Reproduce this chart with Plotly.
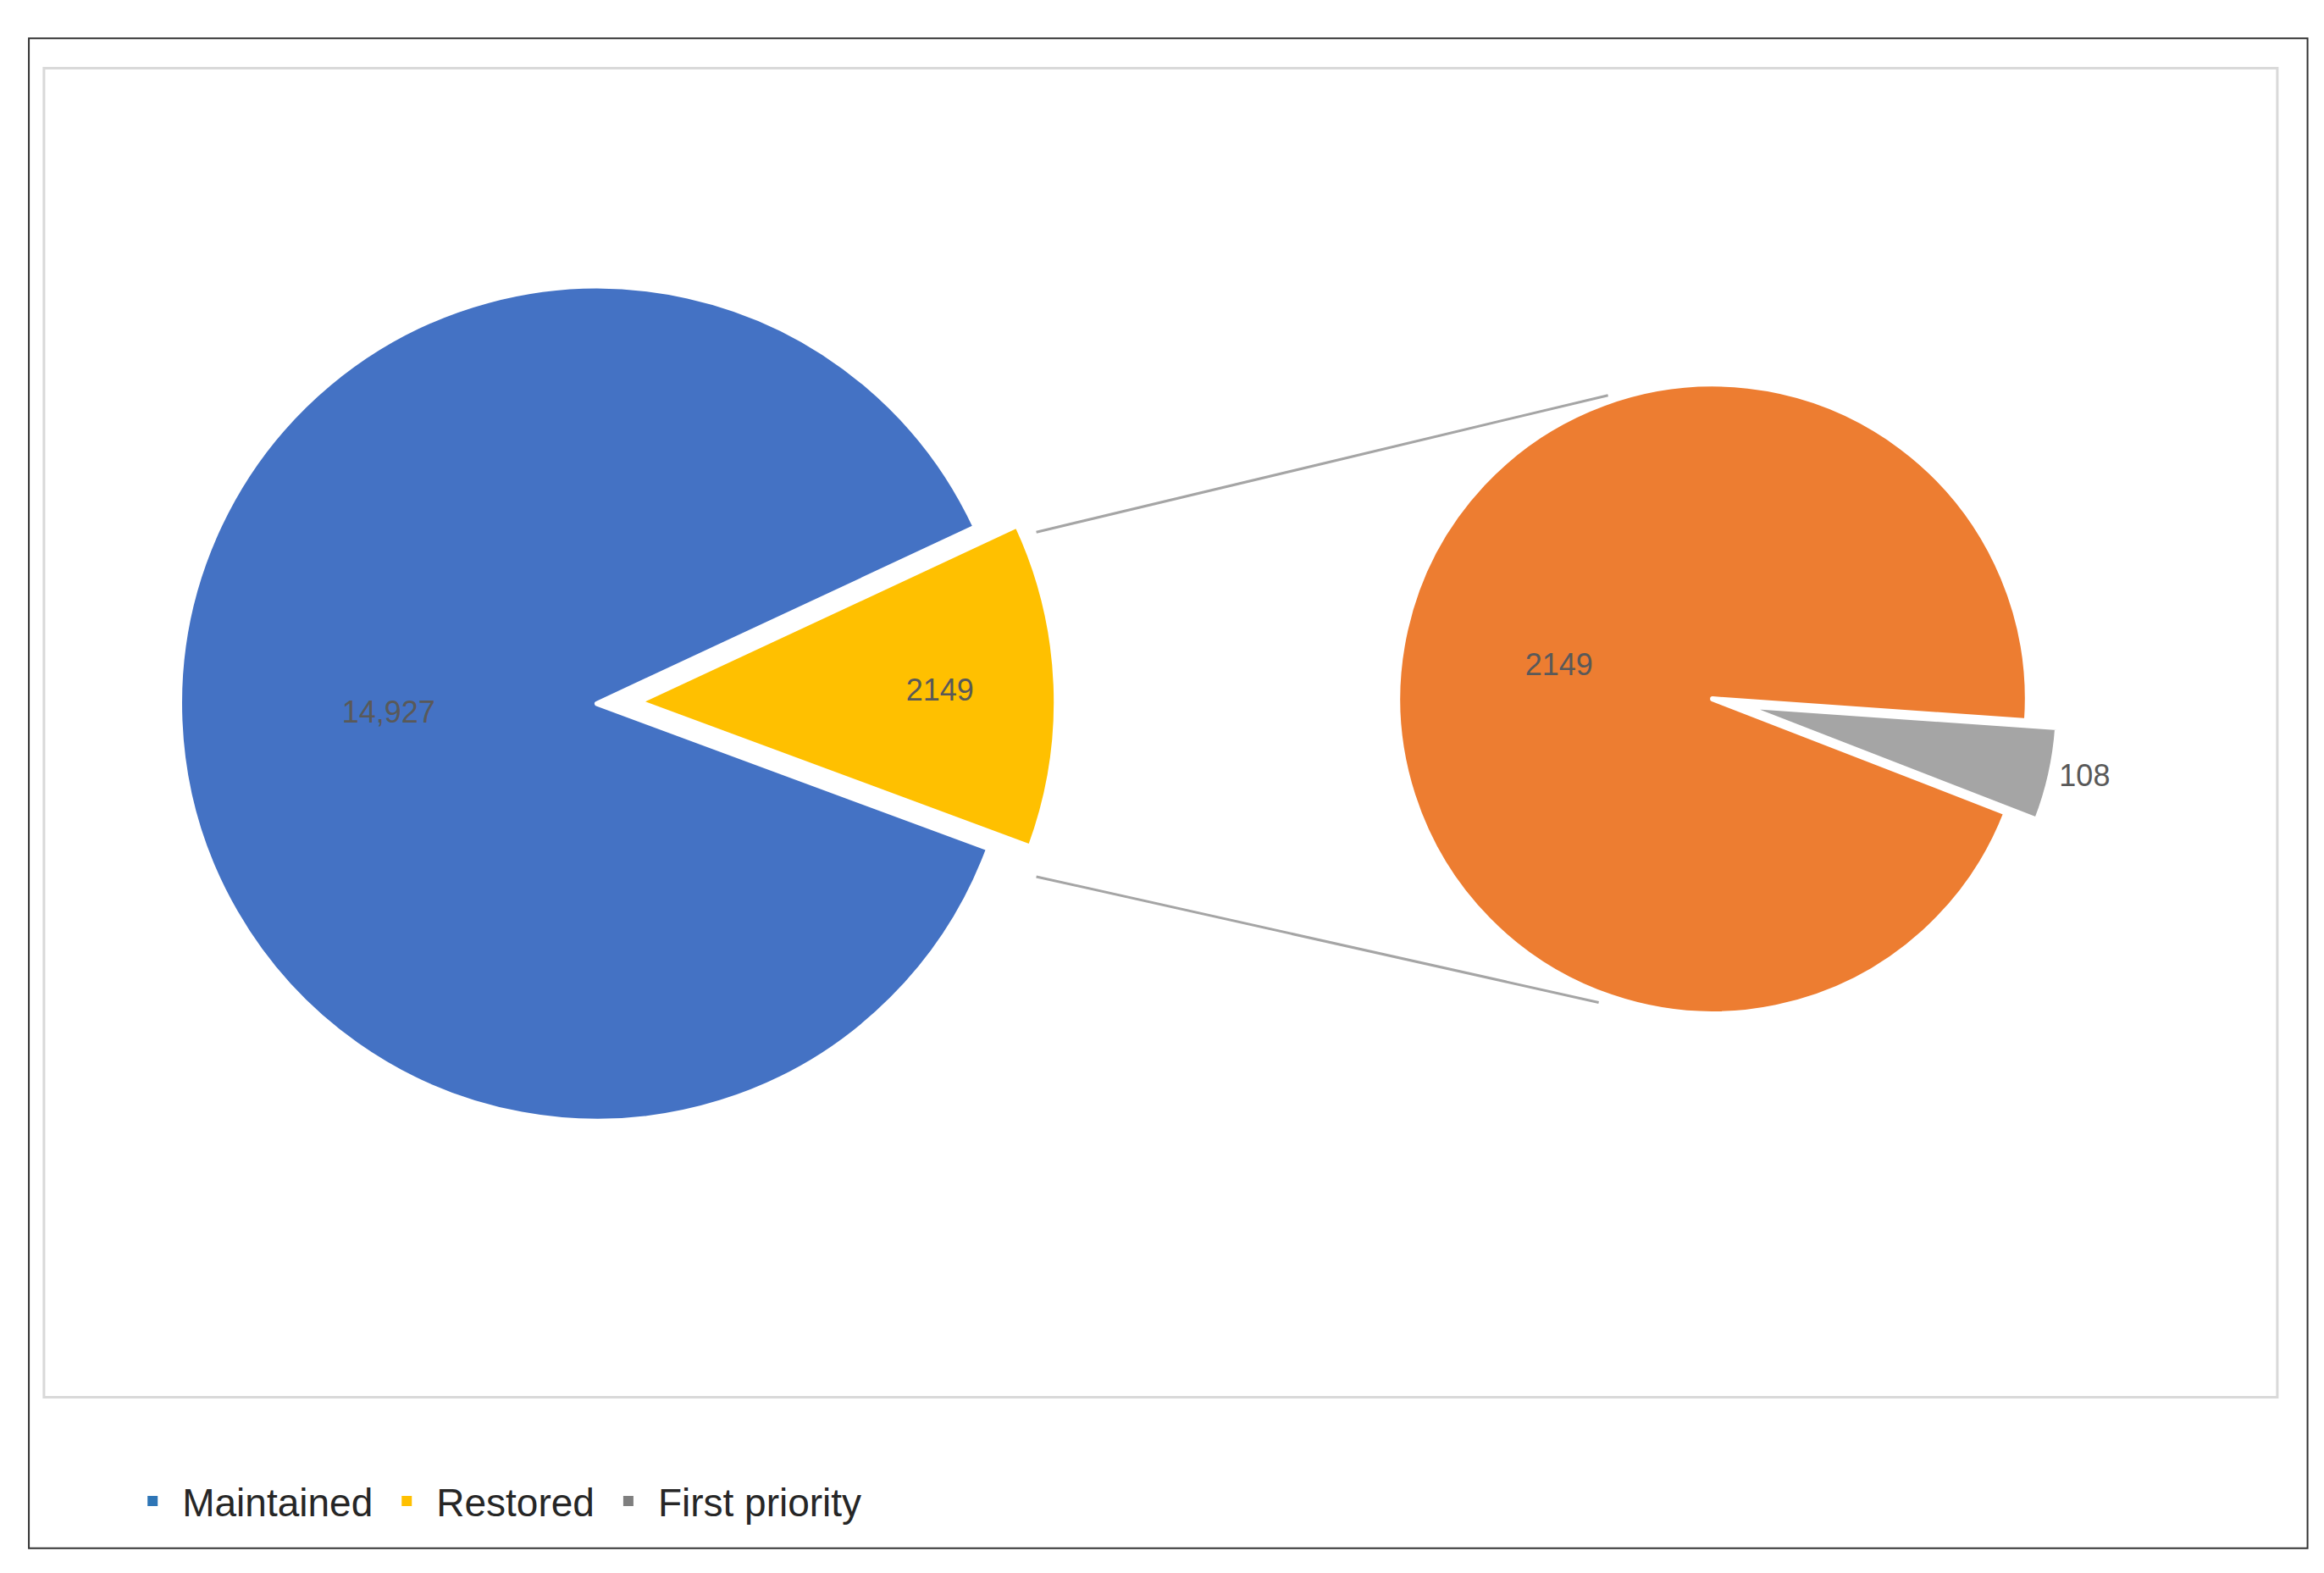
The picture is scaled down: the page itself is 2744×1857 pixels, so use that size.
import plotly.graph_objects as go

main_labels = ["Restored", "Maintained"]
main_values = [2149, 14927]
main_text = ["2149", "14,927"]
sub_labels = ["First priority", "Restored "]
sub_values = [108, 2149]
sub_text = ["108", "2149"]
legend_names = ["Maintained", "Restored", "First priority"]
legend_colors = ["#2E75B6", "#FFC000", "#7F7F7F"]

fig = go.Figure()
fig.add_trace(go.Pie(
    labels=main_labels, values=main_values, text=main_text, textinfo="text",
    sort=False, direction="clockwise", rotation=65, pull=[0.1, 0],
    marker=dict(colors=["#FFC000", "#4472C4"], line=dict(color="white", width=6)),
    textposition="inside", insidetextorientation="horizontal",
    textfont=dict(size=36, color="#595959", family="Liberation Sans"),
    domain=dict(x=[0.056, 0.452], y=[0.265, 0.849]), showlegend=False, hoverinfo="label+value"))
fig.add_trace(go.Pie(
    labels=sub_labels, values=sub_values, text=sub_text, textinfo="text",
    sort=False, direction="clockwise", rotation=94, pull=[0.1, 0],
    marker=dict(colors=["#A5A5A5", "#ED7D31"], line=dict(color="white", width=6)),
    textposition=["outside", "inside"], insidetextorientation="horizontal",
    textfont=dict(size=36, color="#595959", family="Liberation Sans"),
    domain=dict(x=[0.585, 0.883], y=[0.339, 0.781]), showlegend=False, hoverinfo="label+value"))

for name, col in zip(legend_names, legend_colors):
    fig.add_trace(go.Scatter(x=[None], y=[None], mode="markers", name=name,
                             marker=dict(symbol="square", size=40, color=col)))

shapes = [
    dict(type="rect", xref="paper", yref="paper", x0=0.0095, x1=0.99, y0=0.02, y1=0.98,
         line=dict(color="#333333", width=2)),
    dict(type="rect", xref="paper", yref="paper", x0=0.016, x1=0.977, y0=0.116, y1=0.961,
         line=dict(color="#D9D9D9", width=3)),
    dict(type="line", xref="paper", yref="paper", x0=0.443, y0=0.666, x1=0.689, y1=0.753,
         line=dict(color="#A5A5A5", width=3)),
    dict(type="line", xref="paper", yref="paper", x0=0.443, y0=0.447, x1=0.685, y1=0.367,
         line=dict(color="#A5A5A5", width=3)),
]

fig.update_layout(
    width=2744, height=1857, margin=dict(l=0, r=0, t=0, b=0),
    paper_bgcolor="white", plot_bgcolor="white", shapes=shapes,
    xaxis=dict(visible=False), yaxis=dict(visible=False),
    legend=dict(orientation="h", x=0.05, y=0.05, xanchor="left", yanchor="middle",
                font=dict(size=46, color="#262626", family="Liberation Sans"),
                itemsizing="constant", itemwidth=60),
)
fig.write_html("out.html")
